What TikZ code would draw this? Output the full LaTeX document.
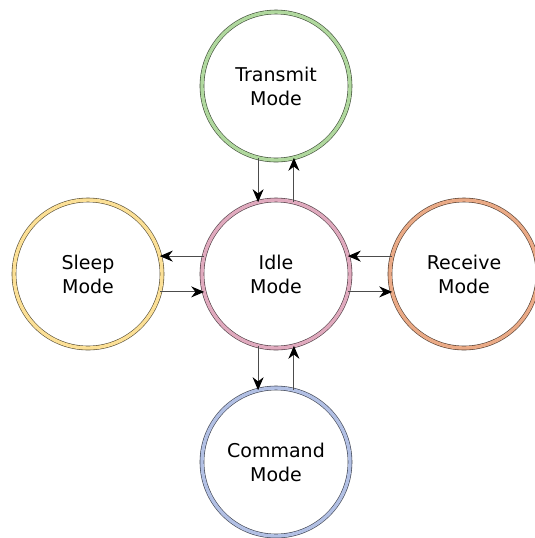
\documentclass[tikz,border=0pt]{standalone}
\usepackage{fontspec}
\setmainfont{DejaVu Sans}
\usepackage{tikz}
\usetikzlibrary{arrows, arrows.meta, positioning, shapes}

\definecolor{txgreen}{RGB}{176,216,158}
\definecolor{idlepink}{RGB}{224,170,190}
\definecolor{sleepyellow}{RGB}{252,224,150}
\definecolor{rxorange}{RGB}{234,170,134}
\definecolor{cmdblue}{RGB}{178,192,228}

\begin{document}
\begin{tikzpicture}[
    x=1pt, y=1pt,
    node distance=20pt,
    mode/.style={circle, minimum size=74pt, outer sep=0pt, align=center,
        draw=#1!35!black, line width=0.3pt, double=#1, double distance=1.7pt,
        font=\fontsize{9.5}{12}\selectfont},
    link/.style={-{Stealth[length=6.5pt, width=5.5pt, black]}, draw=black!70, line width=0.5pt},
]
\useasboundingbox (0,0) rectangle (267.5,-269);
\node[mode=idlepink] (idle) at (138,-137) {Idle\\Mode};
\node[mode=txgreen, above=of idle] (tx) {Transmit\\Mode};
\node[mode=sleepyellow, left=of idle] (sleep) {Sleep\\Mode};
\node[mode=rxorange, right=of idle] (rx) {Receive\\Mode};
\node[mode=cmdblue, below=of idle] (cmd) {Command\\Mode};
\draw[link] (tx.256) -- (idle.104);
\draw[link] (idle.76) -- (tx.284);
\draw[link] (idle.166) -- (sleep.14);
\draw[link] (sleep.-14) -- (idle.194);
\draw[link] (rx.166) -- (idle.14);
\draw[link] (idle.-14) -- (rx.194);
\draw[link] (idle.256) -- (cmd.104);
\draw[link] (cmd.76) -- (idle.284);
\end{tikzpicture}
\end{document}
